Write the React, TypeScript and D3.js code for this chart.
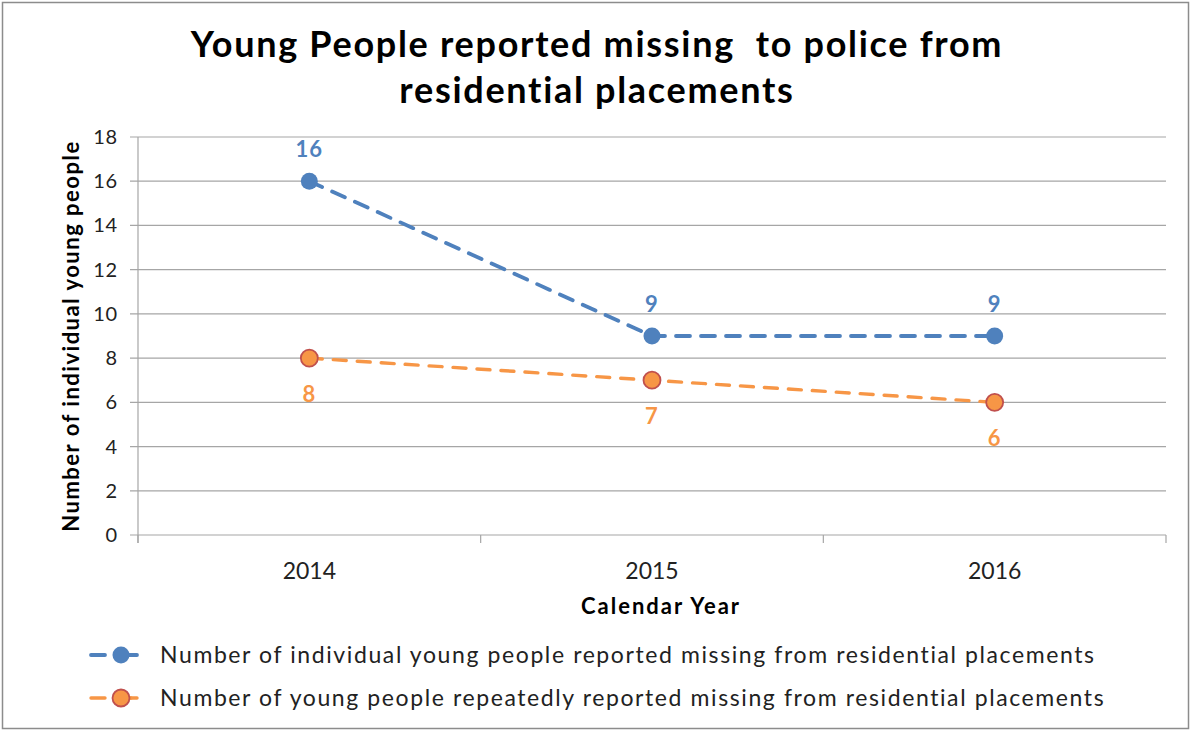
import React from "react";
import * as d3 from "d3";

const years = ["2014", "2015", "2016"];
const individualMissing = [16, 9, 9];
const repeatedMissing = [8, 7, 6];
const yTicks = [0, 2, 4, 6, 8, 10, 12, 14, 16, 18];
const titleLines = ["Young People reported missing  to police from", "residential placements"];
const legendLabels = [
  "Number of individual young people reported missing from residential placements",
  "Number of young people repeatedly reported missing from residential placements",
];

const W = 1192;
const H = 731;
const FONT = "Lato, 'Open Sans', sans-serif";
const BLUE = "#4f81bd";
const ORANGE = "#f79646";

export default function App() {
  const left = 138;
  const right = 1166;
  const top = 137;
  const bottom = 535;

  const x = d3.scaleBand<string>().domain(years).range([left, right]);
  const y = d3.scaleLinear().domain([0, 18]).range([bottom, top]);
  const cx = (d: string) => (x(d) as number) + x.bandwidth() / 2;

  const line = d3
    .line<number>()
    .x((_, i) => cx(years[i]))
    .y((v) => y(v));

  const series = [
    { values: individualMissing, color: BLUE, stroke: BLUE, width: 3.8, labelDy: -24, dash: "14,11" },
    { values: repeatedMissing, color: ORANGE, stroke: "#c0504d", width: 3.4, labelDy: 44, dash: "13,11" },
  ];

  const boundaries = [...years.map((d) => x(d) as number), right];

  return (
    <svg width={W} height={H} style={{ position: "absolute", left: 0, top: 0 }} fontFamily={FONT}>
      <rect x={0} y={0} width={W} height={H} fill="#fff" />
      <rect x={2.5} y={2.5} width={W - 6} height={H - 5} fill="none" stroke="#8c8c8c" strokeWidth={1.5} />

      {titleLines.map((t, i) => (
        <text
          key={i}
          x={597}
          y={57 + i * 46}
          textAnchor="middle"
          fontSize={36}
          fontWeight={700}
          letterSpacing={1.7}
          fill="#000"
          style={{ whiteSpace: "pre" }}
        >
          {t}
        </text>
      ))}

      {yTicks.map((t) => (
        <g key={t}>
          <line x1={130} x2={right} y1={y(t)} y2={y(t)} stroke="#a6a6a6" strokeWidth={1.2} />
          <text x={118} y={y(t)} dy="0.35em" textAnchor="end" fontSize={20} letterSpacing={0.8} fill="#222">
            {t}
          </text>
        </g>
      ))}
      <line x1={left} x2={left} y1={top} y2={bottom + 8} stroke="#a6a6a6" strokeWidth={1.2} />
      {boundaries.map((b, i) => (
        <line key={i} x1={b} x2={b} y1={bottom} y2={bottom + 8} stroke="#a6a6a6" strokeWidth={1.2} />
      ))}
      {years.map((d) => (
        <text key={d} x={cx(d)} y={579} textAnchor="middle" fontSize={23} fill="#222">
          {d}
        </text>
      ))}
      <text x={661} y={614} textAnchor="middle" fontSize={22} fontWeight={700} letterSpacing={2} fill="#000">
        Calendar Year
      </text>
      <text
        transform={`translate(79, ${(top + bottom) / 2}) rotate(-90)`}
        textAnchor="middle"
        fontSize={22}
        fontWeight={700}
        letterSpacing={1.5}
        fill="#000"
      >
        Number of individual young people
      </text>

      {series.map((s, si) => (
        <g key={si}>
          <path
            d={line(s.values) || ""}
            fill="none"
            stroke={s.color}
            strokeWidth={s.width}
            strokeDasharray={s.dash}
            strokeLinecap="round"
          />
          {s.values.map((v, i) => (
            <g key={i}>
              <circle
                cx={cx(years[i])}
                cy={y(v)}
                r={8.5}
                fill={s.color}
                stroke={s.stroke}
                strokeWidth={si === 1 ? 1.8 : 0}
              />
              <text
                x={cx(years[i])}
                y={y(v) + s.labelDy}
                textAnchor="middle"
                fontSize={22}
                fontWeight={700}
                letterSpacing={1}
                fill={s.color}
              >
                {v}
              </text>
            </g>
          ))}
        </g>
      ))}

      {legendLabels.map((lab, i) => {
        const ly = 655 + i * 43;
        const s = series[i];
        return (
          <g key={i}>
            <line x1={91} x2={137} y1={ly} y2={ly} stroke={s.color} strokeWidth={s.width} strokeDasharray="14,12" strokeLinecap="round" />
            <line x1={128} x2={137} y1={ly} y2={ly} stroke={s.color} strokeWidth={s.width} strokeLinecap="round" />
            <circle cx={121} cy={ly} r={8.5} fill={s.color} stroke={s.stroke} strokeWidth={i === 1 ? 1.8 : 0} />
            <text x={160} y={ly} dy="0.35em" fontSize={23} letterSpacing={1.6} fill="#222">
              {lab}
            </text>
          </g>
        );
      })}
    </svg>
  );
}
